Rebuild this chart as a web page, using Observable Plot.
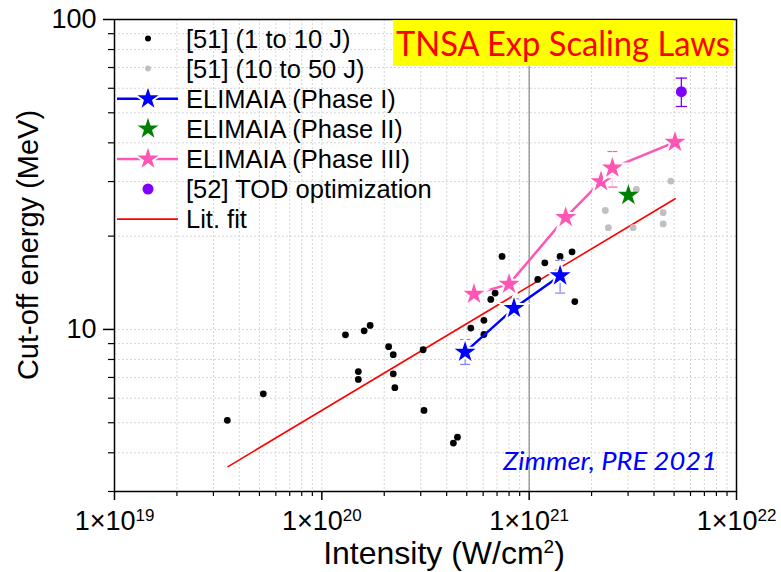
<!DOCTYPE html>
<html><head><meta charset="utf-8">
<script src="https://cdn.jsdelivr.net/npm/d3@7"></script>
<script src="https://cdn.jsdelivr.net/npm/@observablehq/plot@0.6"></script>
<style>
body{margin:0;background:#fff;}
#chart{width:781px;height:572px;}
</style></head><body><div id="chart"></div>
<script>
// ---------- data ----------
const lowI = [3.50e19,5.22e19,1.30e20,1.60e20,1.71e20,2.10e20,2.21e20,1.50e20,1.50e20,2.21e20,2.25e20,3.08e20,3.11e20,4.31e20,4.51e20,5.23e20,6.05e20,6.05e20,6.53e20,6.85e20,7.40e20,1.10e21,1.19e21,1.41e21,1.61e21,1.66e21];
const lowE = [5.09,6.20,9.61,9.90,10.3,8.80,8.29,7.31,6.90,7.19,6.49,8.60,5.48,4.30,4.49,10.1,10.7,9.63,12.5,13.1,17.2,14.5,16.4,17.2,17.8,12.3];
const highI = [2.33e21,2.41e21,3.17e21,3.29e21,4.43e21,4.43e21,4.82e21];
const highE = [24.2,21.3,21.3,28.3,23.8,21.9,30.1];
const p1I = [4.91e20,8.45e20,1.41e21];
const p1E = [8.45,11.7,14.9];
const p1Lo = [7.71,11.1,13.1];
const p1Hi = [9.28,12.56,16.7];
const p2I = [3.01e21];
const p2E = [27.1];
const p3I = [5.42e20,8.0e20,1.50e21,2.22e21,2.52e21,5.05e21];
const p3E = [13.0,14.0,23.0,30.0,33.2,40.2];
const p3Lo = [null,null,null,null,28.8,38.3];
const p3Hi = [null,null,null,null,37.5,41.7];
const todI = [5.42e21];
const todE = [58.5];
const todLo = [52.4];
const todHi = [64.7];
const fitI = [3.53e19,5.06e21];
const fitE = [3.61,26.4];
const xMajorTicks = [1e19,1e20,1e21,1e22];
const yMajorTicks = [10,100];
const legendLabels = ["[51] (1 to 10 J)","[51] (10 to 50 J)","ELIMAIA (Phase I)","ELIMAIA (Phase II)","ELIMAIA (Phase III)","[52] TOD optimization","Lit. fit"];
const titleText = "TNSA Exp Scaling Laws";
const creditText = "Zimmer, PRE 2021";
const xTitle = ["Intensity (W/cm","2",")"];
const yTitle = "Cut-off energy (MeV)";

// ---------- styles ----------
const C = {black:"#000000", gray:"#c0c0c0", blue:"#0000ff", green:"#008000", pink:"#ff55b4", purple:"#8000ff", red:"#ff0000"};
const xMinorTicks = [19,20,21].flatMap(p => [2,3,4,5,6,7,8,9].map(m => m*Math.pow(10,p)));
const yMinorTicks = [3,4,5,6,7,8,9,20,30,40,50,60,70,80,90];
const xGrid = xMajorTicks.concat(xMinorTicks);
const yGrid = yMajorTicks.concat(yMinorTicks);
const idx = a => a.map((_, i) => i);
const capSymbol = {draw(ctx, size){ const w = Math.sqrt(size); ctx.moveTo(-w,0); ctx.lineTo(w,0); }};
const errIdx = a => idx(a).filter(i => a[i] != null);
const STAR_R = 6.6;

const chart = Plot.plot({
  width:781, height:572,
  marginLeft:114, marginRight:45, marginTop:19, marginBottom:81,
  x:{type:"log", domain:[1e19,1e22]},
  y:{type:"log", domain:[3,100]},
  style:{fontFamily:"'Liberation Sans', Arial, sans-serif", background:"white", color:"black"},
  marks:[
    Plot.gridX(xGrid,{stroke:"#d4d4d4", strokeOpacity:1, strokeDasharray:"2,2"}),
    Plot.gridY(yGrid,{stroke:"#d4d4d4", strokeOpacity:1, strokeDasharray:"2,2"}),
    Plot.ruleX([1e21],{stroke:"#8a8a8a", strokeWidth:1.2}),
    Plot.line(idx(fitI),{x:i=>fitI[i], y:i=>fitE[i], stroke:C.red, strokeWidth:1.6}),
    Plot.dot(idx(highI),{x:i=>highI[i], y:i=>highE[i], r:3.4, fill:C.gray}),
    Plot.dot(idx(lowI),{x:i=>lowI[i], y:i=>lowE[i], r:3.4, fill:C.black}),
    // Phase I
    Plot.line(idx(p1I),{x:i=>p1I[i], y:i=>p1E[i], stroke:C.blue, strokeWidth:2.5}),
    Plot.ruleX(idx(p1I),{x:i=>p1I[i], y1:i=>p1Lo[i], y2:i=>p1Hi[i], stroke:"#8080ff", strokeWidth:1.2}),
    Plot.dot(idx(p1I).flatMap(i=>[[i,p1Lo[i]],[i,p1Hi[i]]]),{x:d=>p1I[d[0]], y:d=>d[1], symbol:capSymbol, r:2.8, stroke:"#8080ff", strokeWidth:1.2}),
    Plot.dot(idx(p1I),{x:i=>p1I[i], y:i=>p1E[i], symbol:"star", r:STAR_R, fill:C.blue, stroke:"white", strokeWidth:4, paintOrder:"stroke"}),
    // Phase III
    Plot.line(idx(p3I),{x:i=>p3I[i], y:i=>p3E[i], stroke:C.pink, strokeWidth:2.5}),
    Plot.ruleX(errIdx(p3Lo),{x:i=>p3I[i], y1:i=>p3Lo[i], y2:i=>p3Hi[i], stroke:C.pink, strokeWidth:1, strokeOpacity:0.35}),
    Plot.dot(errIdx(p3Lo).flatMap(i=>[[i,p3Lo[i]],[i,p3Hi[i]]]),{x:d=>p3I[d[0]], y:d=>d[1], symbol:capSymbol, r:2.8, stroke:C.pink, strokeWidth:1.2}),
    Plot.dot(idx(p3I),{x:i=>p3I[i], y:i=>p3E[i], symbol:"star", r:STAR_R, fill:C.pink, stroke:"white", strokeWidth:4, paintOrder:"stroke"}),
    // Phase II
    Plot.dot(idx(p2I),{x:i=>p2I[i], y:i=>p2E[i], symbol:"star", r:STAR_R, fill:C.green}),
    // TOD
    Plot.ruleX(idx(todI),{x:i=>todI[i], y1:i=>todLo[i], y2:i=>todHi[i], stroke:C.purple, strokeWidth:1.3}),
    Plot.dot(idx(todI).flatMap(i=>[[i,todLo[i]],[i,todHi[i]]]),{x:d=>todI[d[0]], y:d=>d[1], symbol:capSymbol, r:3.2, stroke:C.purple, strokeWidth:1.3}),
    Plot.dot(idx(todI),{x:i=>todI[i], y:i=>todE[i], r:5.5, fill:C.purple}),
    Plot.frame({stroke:"black", strokeWidth:1.5}),
    Plot.axisX(xMajorTicks,{tickSize:9, tickPadding:10, fontSize:27, tickFormat:d=>"1×10^"+Math.round(Math.log10(d)), label:null, strokeWidth:1.5}),
    Plot.axisX(xMinorTicks,{tickSize:5, fill:"none", label:null, strokeWidth:1.2}),
    Plot.axisY(yMajorTicks,{tickSize:11, tickPadding:7, fontSize:27, tickFormat:d=>String(d), label:null, strokeWidth:1.5}),
    Plot.axisY(yMinorTicks,{tickSize:6, fill:"none", label:null, strokeWidth:1.2})
  ]
});
document.getElementById("chart").appendChild(chart);

const svg = d3.select(chart);
// superscripts on x tick labels
svg.selectAll('g[aria-label="x-axis tick label"] text').each(function(){
  const t = d3.select(this); const parts = t.text().split("^");
  t.text(null);
  t.append("tspan").text(parts[0]);
  t.append("tspan").attr("font-size",17).attr("dy","-0.5em").text(parts[1]);
});

const font = "'Liberation Sans', Arial, sans-serif";
// axis titles
const xt = svg.append("text").attr("x",444).attr("y",564).attr("text-anchor","middle")
  .attr("font-family",font).attr("font-size",32).attr("fill","black");
xt.append("tspan").text(xTitle[0]);
xt.append("tspan").attr("font-size",19).attr("dy","-0.6em").text(xTitle[1]);
xt.append("tspan").attr("dy","0.36em").text(xTitle[2]);
svg.append("text").attr("transform","translate(38,245) rotate(-90)").attr("text-anchor","middle")
  .attr("font-family",font).attr("font-size",29).attr("fill","black").text(yTitle);

// title box
svg.append("rect").attr("x",393).attr("y",20).attr("width",340).attr("height",46).attr("fill","#ffff00");
svg.append("text").attr("x",563).attr("y",56).attr("text-anchor","middle").attr("font-family","Lato, 'Open Sans', sans-serif")
  .attr("font-size",35).attr("fill","#ff0000").attr("textLength",334).attr("lengthAdjust","spacingAndGlyphs").text(titleText);

// credit
svg.append("text").attr("x",610).attr("y",470).attr("text-anchor","middle").attr("font-family","Lato, 'Open Sans', sans-serif")
  .attr("font-style","italic").attr("font-size",26).attr("fill","#0000ff")
  .attr("textLength",214).attr("lengthAdjust","spacingAndGlyphs").text(creditText);

// legend
const lg = svg.append("g").attr("text-anchor","start");
const sym = (type, r) => d3.symbol(type, Math.PI*r*r)();
const legendStyle = [
  {dot:3, fill:C.black},
  {dot:3, fill:C.gray},
  {star:true, fill:C.blue, line:C.blue},
  {star:true, fill:C.green},
  {star:true, fill:C.pink, line:C.pink},
  {dot:5.5, fill:C.purple},
  {line:C.red, lw:1.8}
];
legendLabels.forEach((lab, i) => {
  const y = 38.5 + i*30.1, g = lg.append("g").attr("transform",`translate(148,${y})`);
  const s = legendStyle[i];
  if (s.line) g.append("line").attr("x1",-31).attr("x2",30).attr("stroke",s.line).attr("stroke-width",s.lw||2.5);
  if (s.star) g.append("path").attr("d",sym(d3.symbolStar,STAR_R)).attr("fill",s.fill).attr("stroke",s.line?"white":"none").attr("stroke-width",4).attr("paint-order","stroke");
  if (s.dot) g.append("circle").attr("r",s.dot).attr("fill",s.fill);
  lg.append("text").attr("x",186).attr("y",y).attr("dy","0.36em").attr("text-anchor","start").attr("font-family",font).attr("font-size",25.5).attr("fill","black").text(lab);
});
</script></body></html>
